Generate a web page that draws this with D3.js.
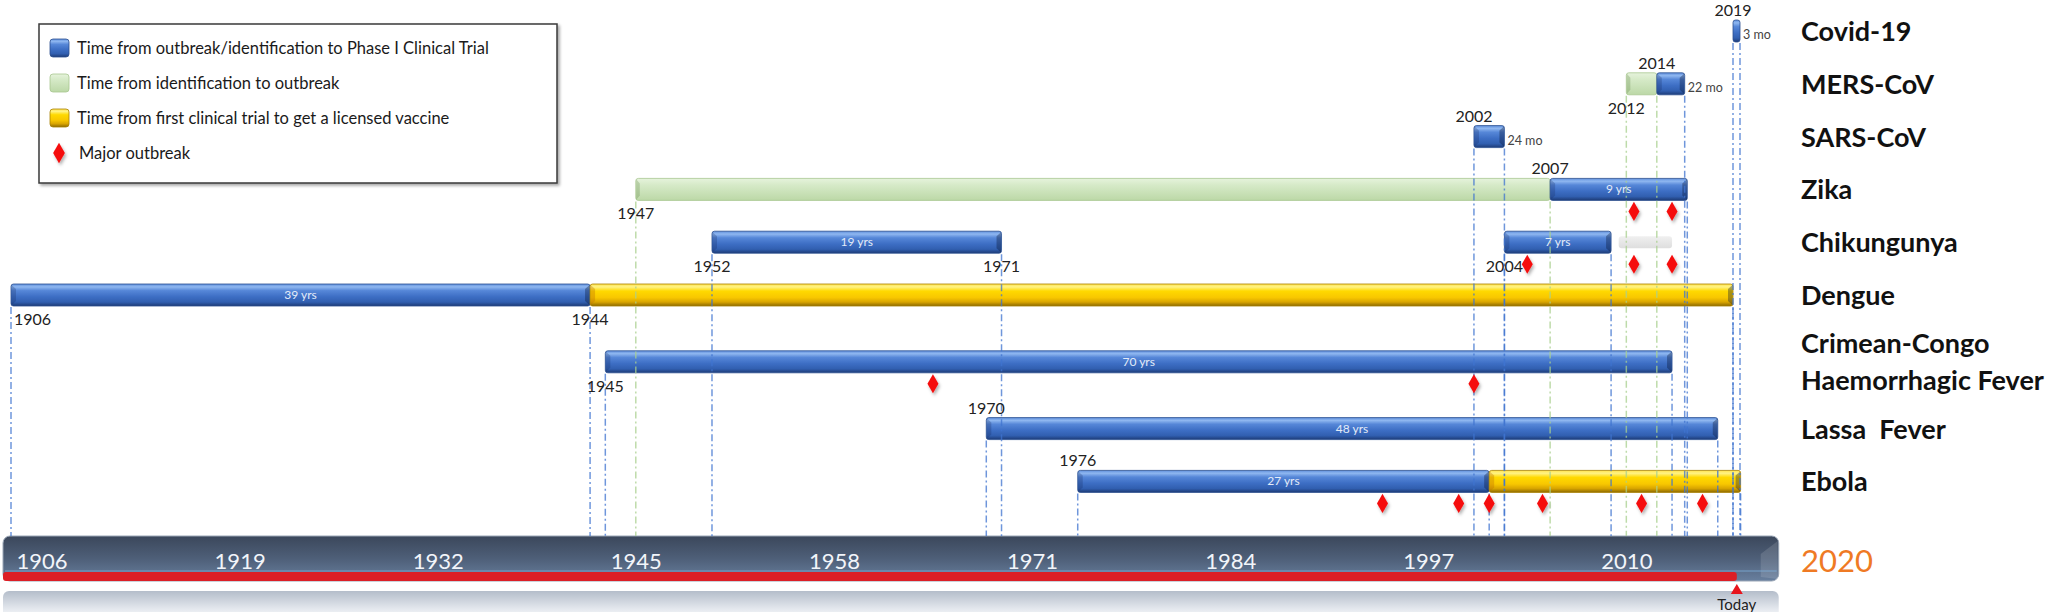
<!DOCTYPE html>
<html><head><meta charset="utf-8">
<script src="https://cdn.jsdelivr.net/npm/d3@7"></script>
<style>
html,body{margin:0;padding:0;background:#fff;overflow:hidden;}
svg{display:block;font-family:Lato,"Open Sans",sans-serif;}
</style></head><body>
<svg id="chart" width="2054" height="612"></svg>
<script>
// ---------------- DATA ----------------
const categories = ["Covid-19","MERS-CoV","SARS-CoV","Zika","Chikungunya","Dengue",
  "Crimean-Congo Haemorrhagic Fever","Lassa Fever","Ebola"];
const labelLines = {
  "Crimean-Congo Haemorrhagic Fever": ["Crimean-Congo","Haemorrhagic Fever"],
  "Lassa Fever": ["Lassa\u00a0 Fever"]
};
const axisYears = [1906,1919,1932,1945,1958,1971,1984,1997,2010];

// Time from outbreak/identification to Phase I clinical trial
const outbreakToTrial = [
  {cat:"Covid-19", start:2019, end:2019.25, dur:"3 mo"},
  {cat:"MERS-CoV", start:2014, end:2015.83, dur:"22 mo"},
  {cat:"SARS-CoV", start:2002, end:2004, dur:"24 mo"},
  {cat:"Zika", start:2007, end:2016, dur:"9 yrs"},
  {cat:"Chikungunya", start:1952, end:1971, dur:"19 yrs"},
  {cat:"Chikungunya", start:2004, end:2011, dur:"7 yrs"},
  {cat:"Dengue", start:1906, end:1944, dur:"39 yrs"},
  {cat:"Crimean-Congo Haemorrhagic Fever", start:1945, end:2015, dur:"70 yrs"},
  {cat:"Lassa Fever", start:1970, end:2018, dur:"48 yrs"},
  {cat:"Ebola", start:1976, end:2003, dur:"27 yrs"}
];
// Time from identification to outbreak
const identificationToOutbreak = [
  {cat:"MERS-CoV", start:2012, end:2014},
  {cat:"Zika", start:1947, end:2007}
];
// Time from first clinical trial to a licensed vaccine
const trialToLicensed = [
  {cat:"Dengue", start:1944, end:2019},
  {cat:"Ebola", start:2003, end:2019.5}
];
// unlabelled grey period
const greyPeriod = [
  {cat:"Chikungunya", start:2011.5, end:2015}
];
// Major outbreaks
const majorOutbreaks = [
  {cat:"Zika", years:[2012.5, 2015]},
  {cat:"Chikungunya", years:[2005.5, 2012.5, 2015]},
  {cat:"Crimean-Congo Haemorrhagic Fever", years:[1966.5, 2002]},
  {cat:"Ebola", years:[1996, 2001, 2003, 2006.5, 2013, 2017]}
];
// Year annotations
const yearLabels = [
  {cat:"Covid-19", year:2019, pos:"above"},
  {cat:"MERS-CoV", year:2014, pos:"above"},
  {cat:"MERS-CoV", year:2012, pos:"below"},
  {cat:"SARS-CoV", year:2002, pos:"above"},
  {cat:"Zika", year:2007, pos:"above"},
  {cat:"Zika", year:1947, pos:"below"},
  {cat:"Chikungunya", year:1952, pos:"below"},
  {cat:"Chikungunya", year:1971, pos:"below"},
  {cat:"Chikungunya", year:2004, pos:"below"},
  {cat:"Dengue", year:1906, pos:"below"},
  {cat:"Dengue", year:1944, pos:"below"},
  {cat:"Crimean-Congo Haemorrhagic Fever", year:1945, pos:"below"},
  {cat:"Lassa Fever", year:1970, pos:"above"},
  {cat:"Ebola", year:1976, pos:"above"}
];
const todayYear = 2019.25;
const axisEndYear = 2022;
const currentYearLabel = "2020";
const legendItems = [
  {type:"blue", text:"Time from outbreak/identification to Phase I Clinical Trial"},
  {type:"green", text:"Time from identification to outbreak"},
  {type:"yellow", text:"Time from first clinical trial to get a licensed vaccine"},
  {type:"diamond", text:"Major outbreak"}
];

// ---------------- LAYOUT ----------------
const svg = d3.select("#chart");
const x = d3.scaleLinear().domain([1906, 2019]).range([11, 1733]);
const rowPos = [];
{
  let acc = 31;
  categories.forEach((c,i) => {
    const two = (labelLines[c] || [c]).length > 1;
    if (i > 0) acc += 52.8;
    if (two) acc += 14;
    rowPos.push(acc);
    if (two) acc += 14;
  });
}
const y = d3.scaleOrdinal().domain(categories).range(rowPos);
const barH = 22;
const bandTop = 536, bandBottom = 581;
const labelX = 1801;

// ---------------- DEFS ----------------
const defs = svg.append("defs");
function grad(id, stops) {
  const g = defs.append("linearGradient").attr("id", id)
    .attr("x1",0).attr("y1",0).attr("x2",0).attr("y2",1);
  stops.forEach(s => g.append("stop").attr("offset", s[0]).attr("stop-color", s[1]));
}
grad("gBlue", [[0,"#5f8fdc"],[0.13,"#8fb7f0"],[0.3,"#5687d8"],[0.58,"#3d6ec4"],[0.82,"#315fb0"],[1,"#1d3b76"]]);
grad("gYellow", [[0,"#ffe24a"],[0.13,"#fff385"],[0.32,"#ffd900"],[0.62,"#f8c700"],[0.82,"#d9a500"],[1,"#8d6a00"]]);
grad("gGreen", [[0,"#e6f3dc"],[0.3,"#d6eac8"],[1,"#bcd8a7"]]);
grad("gGrey", [[0,"#f0f0f0"],[1,"#dedede"]]);
grad("gBand", [[0,"#3b475b"],[0.5,"#4e5f78"],[1,"#687f9e"]]);
grad("gRefl", [[0,"#b4bdca"],[0.6,"#e4e8ee"],[1,"#ffffff"]]);
const f = defs.append("filter").attr("id","shadow").attr("x","-50%").attr("y","-50%").attr("width","200%").attr("height","200%");
f.append("feDropShadow").attr("dx",1.5).attr("dy",2.5).attr("stdDeviation",1.5).attr("flood-color","#000").attr("flood-opacity",0.3);
const f2 = defs.append("filter").attr("id","boxshadow").attr("x","-5%").attr("y","-5%").attr("width","110%").attr("height","115%");
f2.append("feDropShadow").attr("dx",2).attr("dy",2).attr("stdDeviation",1.5).attr("flood-color","#000").attr("flood-opacity",0.35);

const typeStyle = {
  blue:   {fill:"url(#gBlue)", stroke:"#2b4f8f", line:"#3f74d0"},
  green:  {fill:"url(#gGreen)", stroke:"#a8c790", line:"#a9d08e"},
  yellow: {fill:"url(#gYellow)", stroke:"#a88000", line:"#3f74d0"}
};

// ---------------- AXIS BAND ----------------
const bandX0 = x(1906) - 8, bandX1 = x(axisEndYear);
svg.append("rect").attr("x", bandX0).attr("y", 591).attr("width", bandX1 - bandX0).attr("height", 30)
  .attr("rx", 6).attr("fill", "url(#gRefl)");
svg.append("rect").attr("x", bandX0).attr("y", bandTop).attr("width", bandX1 - bandX0)
  .attr("height", bandBottom - bandTop).attr("rx", 7).attr("fill", "url(#gBand)")
  .attr("stroke", "#9aa6b6").attr("stroke-width", 1);
svg.append("path")
  .attr("d", `M${bandX1-1},${bandTop+5} L${bandX1-18},${bandTop+18} L${bandX1-18},${bandBottom-4} L${bandX1-1},${bandBottom-2} Z`)
  .attr("fill", "rgba(255,255,255,0.13)");
svg.append("line").attr("x1", bandX0+2).attr("x2", bandX1-2).attr("y1", 571).attr("y2", 571)
  .attr("stroke", "#7fb0dc").attr("stroke-width", 1).attr("opacity", 0.8);
svg.append("rect").attr("x", bandX0).attr("y", 572).attr("width", x(todayYear) - bandX0)
  .attr("height", 9).attr("rx", 3).attr("fill", "#dc1f26");
// today marker
const tx = x(todayYear);
svg.append("path").attr("d", `M${tx},584 L${tx+6},594 L${tx-6},594 Z`).attr("fill", "#e8141c");
svg.append("text").attr("x", tx).attr("y", 610).attr("text-anchor", "middle")
  .attr("font-size", 15).attr("fill", "#222").text("Today");

const axisG = svg.append("g").attr("transform", `translate(0,${bandTop})`)
  .call(d3.axisBottom(x).tickValues(axisYears).tickFormat(d3.format("d")).tickSize(0).tickPadding(0));
axisG.select(".domain").remove();
axisG.attr("font-family", null).attr("font-size", null);
axisG.selectAll("text").attr("text-anchor", "start").attr("x", 5).attr("y", 33).attr("dy", null)
  .attr("font-size", 22).attr("fill", "#f2f5fa");

svg.append("text").attr("x", labelX).attr("y", 572).attr("font-size", 31)
  .attr("fill", "#ef7a24").text(currentYearLabel);

// ---------------- BARS ----------------
const segments = [];
identificationToOutbreak.forEach(d => segments.push({...d, type:"green"}));
outbreakToTrial.forEach(d => segments.push({...d, type:"blue"}));
trialToLicensed.forEach(d => segments.push({...d, type:"yellow"}));

const barG = svg.append("g");
barG.selectAll("rect.grey").data(greyPeriod).join("rect").attr("class","grey")
  .attr("x", d => x(d.start)).attr("width", d => x(d.end) - x(d.start))
  .attr("y", d => y(d.cat) - 6).attr("height", 12).attr("rx", 3)
  .attr("fill", "url(#gGrey)");

function segGeom(d) {
  const x0 = x(d.start);
  const w = Math.max(x(d.end) - x0, 7);
  const y0 = y(d.cat) - barH/2;
  return {x0, x1: x0 + w, w, y0, y1: y0 + barH};
}
const b = 5;
segments.forEach(d => {
  const g = segGeom(d), st = typeStyle[d.type];
  const grp = barG.append("g");
  grp.append("rect").attr("x", g.x0).attr("y", g.y0).attr("width", g.w).attr("height", barH)
    .attr("rx", 2.5).attr("fill", st.fill).attr("stroke", st.stroke).attr("stroke-width", 0.8);
  if (g.w > 2*b + 2 && d.type !== "green") {
    grp.append("path").attr("d", `M${g.x0+0.5},${g.y0+1} L${g.x0+b},${g.y0+b} L${g.x0+b},${g.y1-b} L${g.x0+0.5},${g.y1-1} Z`)
      .attr("fill", d.type === "yellow" ? "rgba(190,110,0,0.35)" : "rgba(20,40,90,0.25)");
    grp.append("path").attr("d", `M${g.x1-0.5},${g.y0+1} L${g.x1-b},${g.y0+b} L${g.x1-b},${g.y1-b} L${g.x1-0.5},${g.y1-1} Z`)
      .attr("fill", "rgba(10,20,50,0.35)");
  }
  if (d.type === "green") {
    grp.append("path").attr("d", `M${g.x0+0.5},${g.y0+1} L${g.x0+4},${g.y0+5} L${g.x0+4},${g.y1-5} L${g.x0+0.5},${g.y1-1} Z`)
      .attr("fill", "rgba(80,120,50,0.25)");
  }
});

// ---------------- GUIDE LINES ----------------
const guides = new Map();
segments.forEach(d => {
  const g = segGeom(d);
  [[d.start, g.x0], [d.end, g.x1]].forEach(([yr, px]) => {
    const key = Math.round(px) + "_" + d.cat;
    if (!guides.has(key)) guides.set(key, {px, top: g.y1, color: typeStyle[d.type].line});
  });
});
svg.append("g").selectAll("line").data([...guides.values()]).join("line")
  .attr("x1", d => d.px).attr("x2", d => d.px).attr("y1", d => d.top + 1).attr("y2", bandTop)
  .attr("stroke", d => d.color).attr("stroke-width", 1.5)
  .attr("stroke-dasharray", "7 3 2 3").attr("opacity", 0.75);

// ---------------- DURATION LABELS ----------------
outbreakToTrial.forEach(d => {
  const g = segGeom(d);
  const inside = g.w > 45;
  svg.append("text")
    .attr("x", inside ? (g.x0 + g.x1)/2 : g.x1 + 3)
    .attr("y", y(d.cat) + (inside ? 4 : 8))
    .attr("text-anchor", inside ? "middle" : "start")
    .attr("font-size", inside ? 12 : 12.5)
    .attr("fill", inside ? "#e3ebf8" : "#444")
    .text(d.dur);
});

// ---------------- YEAR LABELS ----------------
svg.append("g").selectAll("text").data(yearLabels).join("text")
  .attr("x", d => x(d.year) - 18 < 4 ? x(d.year) + 3 : x(d.year))
  .attr("text-anchor", d => x(d.year) - 18 < 4 ? "start" : "middle")
  .attr("y", d => d.pos === "above" ? y(d.cat) - barH/2 - 4 : y(d.cat) + barH/2 + 19)
  .attr("font-size", 16).attr("fill", "#222")
  .text(d => d.year);

// ---------------- OUTBREAK DIAMONDS ----------------
const diamond = d3.symbol(d3.symbolDiamond, 105);
const diaData = majorOutbreaks.flatMap(o => o.years.map(yr => ({cat:o.cat, year:yr})));
svg.append("g").selectAll("path").data(diaData).join("path")
  .attr("d", diamond)
  .attr("transform", d => `translate(${x(d.year)},${y(d.cat) + 22})`)
  .attr("fill", "#f50c0c").attr("filter", "url(#shadow)");

// ---------------- ROW LABELS ----------------
categories.forEach(c => {
  const lines = labelLines[c] || [c];
  const t = svg.append("text").attr("font-size", 27).attr("font-weight", 700).attr("fill", "#111")
    .attr("xml:space", "preserve").style("white-space", "pre");
  lines.forEach((ln, i) => {
    t.append("tspan").attr("x", labelX)
      .attr("y", y(c) + 10 + (i - (lines.length - 1)/2) * 37).text(ln);
  });
});

// ---------------- LEGEND ----------------
const leg = svg.append("g");
leg.append("rect").attr("x", 39).attr("y", 24).attr("width", 518).attr("height", 159)
  .attr("fill", "#fff").attr("stroke", "#3a3a3a").attr("stroke-width", 1.5).attr("filter", "url(#boxshadow)");
const legY = d3.scalePoint().domain(legendItems.map(d => d.text)).range([48, 153]);
legendItems.forEach(d => {
  const cy = legY(d.text);
  if (d.type === "diamond") {
    leg.append("path").attr("d", d3.symbol(d3.symbolDiamond, 120))
      .attr("transform", `translate(59,${cy})`).attr("fill", "#f50c0c").attr("filter", "url(#shadow)");
  } else {
    leg.append("rect").attr("x", 50).attr("y", cy - 9).attr("width", 19).attr("height", 18).attr("rx", 3)
      .attr("fill", typeStyle[d.type].fill).attr("stroke", typeStyle[d.type].stroke).attr("stroke-width", 0.8);
  }
  leg.append("text").attr("x", d.type === "diamond" ? 79 : 77).attr("y", cy + 6)
    .attr("font-size", 16.5).attr("fill", "#1a1a1a").text(d.text);
});
</script>
</body></html>
